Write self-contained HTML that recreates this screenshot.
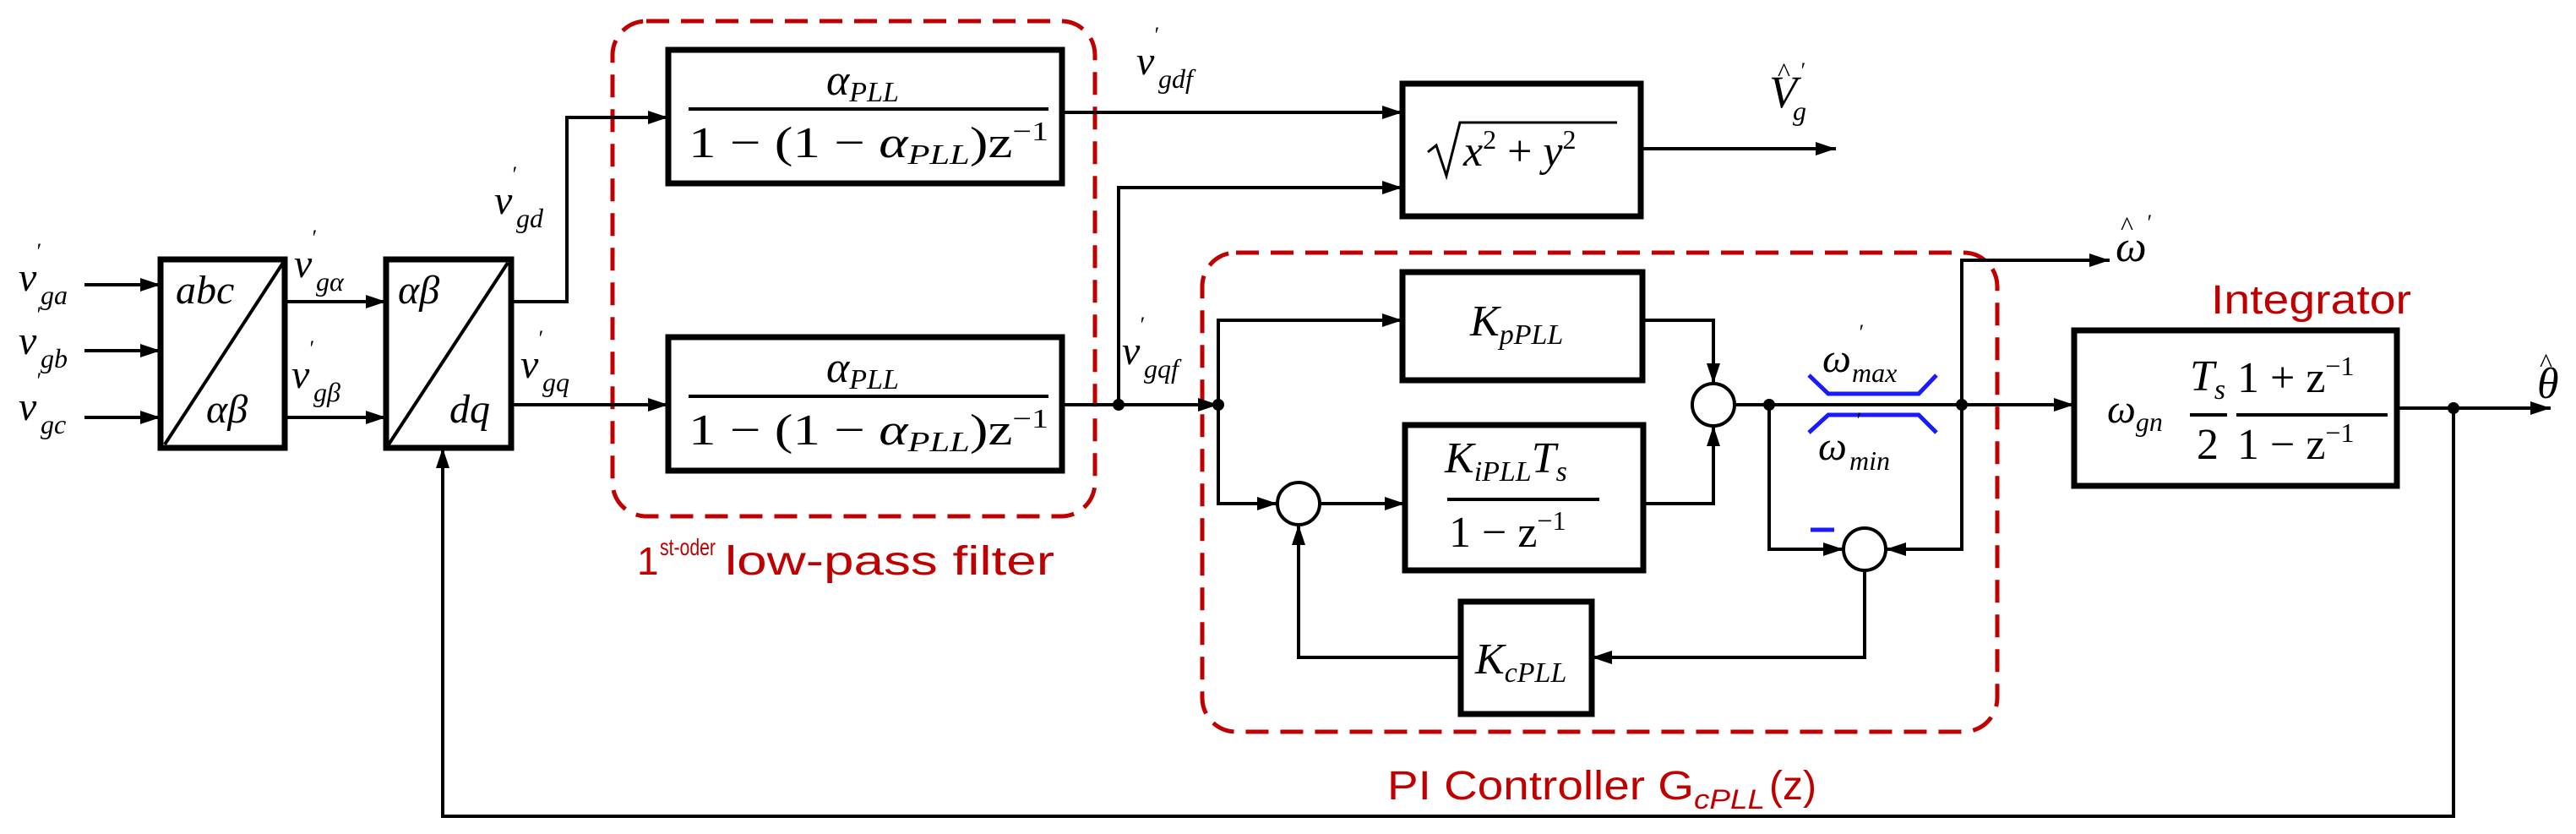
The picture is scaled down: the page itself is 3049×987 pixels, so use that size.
<!DOCTYPE html>
<html><head><meta charset="utf-8"><style>
html,body{margin:0;padding:0;background:#fff;}
svg{display:block;}
.m{font-family:"Liberation Serif",serif;font-style:italic;}
.r{font-family:"Liberation Sans",sans-serif;fill:#c00000;}
</style></head><body>
<svg width="3049" height="987" viewBox="0 0 3049 987" xmlns="http://www.w3.org/2000/svg">
<defs>
<marker id="a" markerUnits="userSpaceOnUse" markerWidth="26" markerHeight="18" refX="24" refY="8" orient="auto">
<path d="M0,0 L24,8 L0,16 z" fill="#000"/></marker>
</defs>
<g fill="none" stroke="#c00000" stroke-width="5" stroke-dasharray="27,14">
<rect x="725" y="25" width="571" height="586" rx="40"/>
<rect x="1423" y="299" width="941" height="567" rx="40"/>
</g>
<g fill="none" stroke="#000" stroke-width="7">
<rect x="190" y="307" width="147" height="223"/>
<rect x="457" y="307" width="148" height="223"/>
<rect x="791" y="59" width="466" height="158"/>
<rect x="791" y="399" width="466" height="158"/>
<rect x="1660" y="99" width="282" height="157"/>
<rect x="1660" y="322" width="284" height="128"/>
<rect x="1663" y="503" width="282" height="172"/>
<rect x="1729" y="712" width="155" height="133"/>
<rect x="2455" y="391" width="382" height="184"/>
</g>
<g fill="none" stroke="#000" stroke-width="4">
<line x1="335" y1="311" x2="195" y2="526"/>
<line x1="601" y1="311" x2="460" y2="526"/>
<circle cx="1537" cy="596" r="25"/>
<circle cx="2028" cy="479" r="25"/>
<circle cx="2207" cy="650" r="25"/>
</g>
<g fill="none" stroke="#000" stroke-width="4" marker-end="url(#a)">
<path d="M100,337 H190"/><path d="M100,415 H190"/><path d="M100,494 H190"/>
<path d="M337,357 H457"/><path d="M337,494 H457"/>
<path d="M605,357 H671 V139 H791"/>
<path d="M605,479 H791"/>
<path d="M1257,133 H1660"/>
<path d="M1257,479 H1442"/>
<path d="M1324,479 V222 H1660"/>
<path d="M1942,176 H2173"/>
<path d="M1442,479 V379 H1660"/>
<path d="M1442,479 V596 H1512"/>
<path d="M1562,596 H1663"/>
<path d="M1944,379 H2028 V454"/>
<path d="M1945,596 H2028 V504"/>
<path d="M2053,479 H2455"/>
<path d="M2094,479 V650 H2182"/>
<path d="M2322,479 V308 H2497"/>
<path d="M2322,479 V650 H2232"/>
<path d="M2207,675 V778 H1884"/>
<path d="M1729,778 H1537 V621"/>
<path d="M2837,483 H3019"/>
<path d="M2904,483 V966 H524 V530"/>
</g>
<g fill="#000">
<circle cx="1324" cy="479" r="7"/><circle cx="1442" cy="479" r="7"/>
<circle cx="2094" cy="479" r="7"/><circle cx="2322" cy="479" r="7"/>
<circle cx="2904" cy="483" r="7"/>
</g>
<g fill="none" stroke="#1a1aff" stroke-width="5">
<path d="M2141,444 L2164,466 H2271 L2292,444"/>
<path d="M2141,512 L2164,491 H2271 L2292,512"/>
<line x1="2143" y1="627" x2="2171" y2="627"/>
</g>
<g class="m" fill="#000" font-size="48">
<text x="22" y="344">v</text><text x="42" y="306" font-size="26">′</text><text x="48" y="360" font-size="32">ga</text>
<text x="22" y="419">v</text><text x="42" y="381" font-size="26">′</text><text x="48" y="435" font-size="32">gb</text>
<text x="22" y="497">v</text><text x="42" y="459" font-size="26">′</text><text x="48" y="513" font-size="32">gc</text>
<text x="348" y="328">v</text><text x="368" y="290" font-size="26">′</text><text x="374" y="344" font-size="32">gα</text>
<text x="345" y="459">v</text><text x="365" y="421" font-size="26">′</text><text x="371" y="475" font-size="32">gβ</text>
<text x="585" y="253">v</text><text x="605" y="215" font-size="26">′</text><text x="611" y="269" font-size="32">gd</text>
<text x="616" y="447">v</text><text x="636" y="409" font-size="26">′</text><text x="642" y="463" font-size="32">gq</text>
<text x="1345" y="88">v</text><text x="1365" y="50" font-size="26">′</text><text x="1371" y="104" font-size="32">gdf</text>
<text x="1328" y="431">v</text><text x="1348" y="393" font-size="26">′</text><text x="1354" y="447" font-size="32">gqf</text>
<text x="208" y="359">abc</text><text x="244" y="500">αβ</text>
<text x="471" y="359">αβ</text><text x="532" y="500">dq</text>
<text x="978" y="112" font-size="52">α<tspan font-size="34" dy="8">PLL</tspan></text>
<line x1="815" y1="129" x2="1241" y2="129" stroke="#000" stroke-width="4"/>
<text x="815" y="186" font-style="normal" font-size="52" textLength="426" lengthAdjust="spacingAndGlyphs">1 − (1 − <tspan font-style="italic">α</tspan><tspan font-style="italic" font-size="34" dy="8">PLL</tspan><tspan dy="-8">)z</tspan><tspan font-size="32" dy="-20">−1</tspan></text>
<text x="978" y="452" font-size="52">α<tspan font-size="34" dy="8">PLL</tspan></text>
<line x1="815" y1="469" x2="1241" y2="469" stroke="#000" stroke-width="4"/>
<text x="815" y="526" font-style="normal" font-size="52" textLength="426" lengthAdjust="spacingAndGlyphs">1 − (1 − <tspan font-style="italic">α</tspan><tspan font-style="italic" font-size="34" dy="8">PLL</tspan><tspan dy="-8">)z</tspan><tspan font-size="32" dy="-20">−1</tspan></text>
<path d="M1690,180 L1700,172 L1712,208 L1728,145 H1914" fill="none" stroke="#000" stroke-width="3"/>
<text x="1732" y="196" font-size="52">x<tspan font-size="32" dy="-20" font-style="normal">2</tspan><tspan dy="20" font-style="normal"> + </tspan>y<tspan font-size="32" dy="-20" font-style="normal">2</tspan></text>
<text x="2094" y="127" font-size="54">V</text><text x="2104" y="96" font-size="32" font-style="normal">^</text><text x="2130" y="92" font-size="26">′</text><text x="2122" y="142" font-size="32">g</text>
<text x="1740" y="397" font-size="52">K<tspan font-size="34" dy="10">pPLL</tspan></text>
<text x="1710" y="559" font-size="52">K<tspan font-size="34" dy="10">iPLL</tspan><tspan dy="-10">T</tspan><tspan font-size="34" dy="10">s</tspan></text>
<line x1="1713" y1="591" x2="1893" y2="591" stroke="#000" stroke-width="4"/>
<text x="1715" y="647" font-style="normal" font-size="52">1 − z<tspan font-size="32" dy="-20">−1</tspan></text>
<text x="1746" y="797" font-size="52">K<tspan font-size="34" dy="10">cPLL</tspan></text>
<text x="2157" y="440">ω</text><text x="2199" y="402" font-size="26">′</text><text x="2192" y="452" font-size="32">max</text>
<text x="2152" y="544">ω</text><text x="2196" y="506" font-size="26">′</text><text x="2189" y="556" font-size="32">min</text>
<text x="2504" y="309" font-size="52">ω</text><text x="2510" y="278" font-size="32" font-style="normal">^</text><text x="2540" y="272" font-size="26">′</text>
<text x="2494" y="500">ω<tspan font-size="32" dy="10">gn</tspan></text>
<text x="2592" y="462" font-size="52">T<tspan font-size="34" dy="10">s</tspan></text>
<line x1="2592" y1="491" x2="2636" y2="491" stroke="#000" stroke-width="4"/>
<text x="2600" y="543" font-style="normal" font-size="52">2</text>
<text x="2648" y="464" font-style="normal" font-size="52">1 + z<tspan font-size="32" dy="-20">−1</tspan></text>
<line x1="2647" y1="491" x2="2826" y2="491" stroke="#000" stroke-width="4"/>
<text x="2648" y="543" font-style="normal" font-size="52">1 − z<tspan font-size="32" dy="-20">−1</tspan></text>
<text x="3003" y="471" font-size="52">θ</text><text x="3006" y="440" font-size="32" font-style="normal">^</text>
</g>
<g class="r">
<text x="754" y="680" font-size="46">1</text>
<text x="781" y="657" font-size="28" textLength="66" lengthAdjust="spacingAndGlyphs">st-oder</text>
<text x="858" y="680" font-size="48" textLength="390" lengthAdjust="spacingAndGlyphs">low-pass filter</text>
<text x="2617" y="371" font-size="48" textLength="237" lengthAdjust="spacingAndGlyphs">Integrator</text>
<text x="1642" y="946" font-size="48" textLength="363" lengthAdjust="spacingAndGlyphs">PI Controller G</text>
<text x="2005" y="957" font-size="32" font-style="italic" textLength="84" lengthAdjust="spacingAndGlyphs">cPLL</text>
<text x="2094" y="946" font-size="48">(z)</text>
</g>
</svg>
</body></html>
